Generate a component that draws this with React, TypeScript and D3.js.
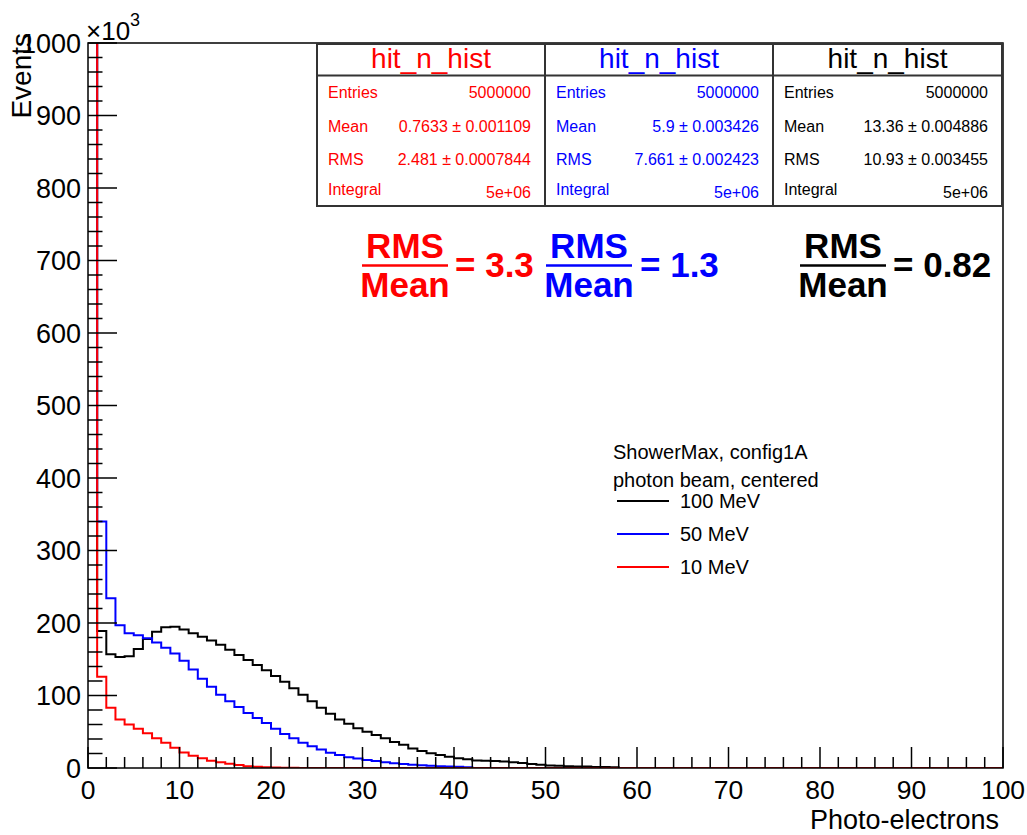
import React from 'react';
import * as d3 from 'd3';

// ---------- data (thousands of events per 1-p.e. bin, from bin 0) ----------
const red10MeV = [4300, 126, 83, 67, 60, 54, 48, 41, 35, 28, 21.5, 17, 13.5, 10, 8, 6, 4, 2.5, 1.8, 1.2, 0.7, 0.4, 0.2, 0.1];
const blue50MeV = [1900, 340, 234, 197, 186, 183, 179, 173, 166, 158, 148, 136, 123, 112, 101, 92, 84, 76, 69, 62, 54, 47, 41, 35, 30, 25.5, 21, 18, 15, 13, 11, 9.5, 8, 6.5, 5.5, 4.5, 3.8, 3, 2.5, 2, 1.6, 1.2];
const black100MeV = [1200, 189, 157, 153, 154, 164, 178, 188, 194, 195, 191, 186, 181, 176, 170, 163, 156, 149, 142, 135, 127, 119, 110, 101, 92, 83, 75, 67, 61, 55, 50, 45.5, 41, 36, 32, 27, 23.5, 20.5, 18, 15.5, 13.5, 12, 10.5, 10, 9.5, 9, 8, 7, 5.5, 4.5, 3.5, 3, 2.5, 2, 2, 1.5, 1.5, 1];

const nBins = 100;
const xDomain = [0, 100];
const yDomain = [0, 1000];
const xMajorTicks = [0, 10, 20, 30, 40, 50, 60, 70, 80, 90, 100];
const yMajorTicks = [0, 100, 200, 300, 400, 500, 600, 700, 800, 900, 1000];

const statsTitles = ['hit_n_hist', 'hit_n_hist', 'hit_n_hist'];
const statsLabels = ['Entries', 'Mean', 'RMS', 'Integral'];
const statsRed = ['5000000', '0.7633 \u00b1 0.001109', '2.481 \u00b1 0.0007844', '5e+06'];
const statsBlue = ['5000000', '5.9 \u00b1 0.003426', '7.661 \u00b1 0.002423', '5e+06'];
const statsBlack = ['5000000', '13.36 \u00b1 0.004886', '10.93 \u00b1 0.003455', '5e+06'];

const ratioValues = ['3.3', '1.3', '0.82'];
const legendHeader = ['ShowerMax, config1A', 'photon beam, centered'];
const legendLabels = ['100 MeV', '50 MeV', '10 MeV'];

const RED = '#ff0000';
const BLUE = '#0000ff';
const BLACK = '#000000';
const FONT = '"Liberation Sans", Arial, Helvetica, sans-serif';

// ---------- layout ----------
const W = 1027;
const H = 835;
const plot = { left: 88, right: 1003, top: 43, bottom: 768 };

export default function App() {
  const x = d3.scaleLinear().domain(xDomain).range([plot.left, plot.right]);
  const y = d3.scaleLinear().domain(yDomain).range([plot.bottom, plot.top]);

  const stepPath = (vals: number[]) => {
    const pts: [number, number][] = [];
    for (let i = 0; i < nBins; i++) {
      const v = vals[i] ?? 0;
      pts.push([x(i), y(v)]);
      pts.push([x(i + 1), y(v)]);
    }
    return d3.line()(pts) || '';
  };

  const xMinor = d3.range(0, 101, 2).filter((t) => t % 10 !== 0);
  const yMinor = d3.range(0, 1001, 20).filter((t) => t % 100 !== 0);

  const tickFont = 26.5;
  const boxes = [
    { x0: 317, x1: 545, color: RED, vals: statsRed },
    { x0: 545, x1: 773, color: BLUE, vals: statsBlue },
    { x0: 773, x1: 1002, color: BLACK, vals: statsBlack },
  ];
  const boxTop = 44;
  const boxTitleBottom = 75.5;
  const boxBottom = 206;
  const rowBaselines = [98, 131.5, 165, 198];

  const ratios = [
    { cx: 405, half: 43, eqX: 455, color: RED },
    { cx: 589, half: 43, eqX: 640, color: BLUE },
    { cx: 843, half: 43, eqX: 893, color: BLACK },
  ];

  const legendColors = [BLACK, BLUE, RED];
  const legendY = [501, 534, 567];

  return (
    <svg width={W} height={H} style={{ position: 'absolute', left: 0, top: 0, background: '#fff' }} fontFamily={FONT}>
      <defs>
        <clipPath id="frameClip">
          <rect x={plot.left} y={plot.top} width={plot.right - plot.left} height={plot.bottom - plot.top} />
        </clipPath>
      </defs>
      <rect x={0} y={0} width={W} height={H} fill="#fff" />

      {/* histograms */}
      <g clipPath="url(#frameClip)" fill="none" strokeWidth={2}>
        <path d={stepPath(black100MeV)} stroke={BLACK} />
        <path d={stepPath(blue50MeV)} stroke={BLUE} />
        <path d={stepPath(red10MeV)} stroke={RED} />
      </g>

      {/* frame */}
      <rect x={plot.left} y={plot.top} width={plot.right - plot.left} height={plot.bottom - plot.top} fill="none" stroke="#000" strokeWidth={1.5} />

      {/* ticks */}
      <g stroke="#000" strokeWidth={1.5}>
        {xMajorTicks.map((t) => (
          <line key={'xM' + t} x1={x(t)} x2={x(t)} y1={plot.bottom} y2={plot.bottom - 21} />
        ))}
        {xMinor.map((t) => (
          <line key={'xm' + t} x1={x(t)} x2={x(t)} y1={plot.bottom} y2={plot.bottom - 11} />
        ))}
        {yMajorTicks.map((t) => (
          <line key={'yM' + t} x1={plot.left} x2={plot.left + 29} y1={y(t)} y2={y(t)} />
        ))}
        {yMinor.map((t) => (
          <line key={'ym' + t} x1={plot.left} x2={plot.left + 14.5} y1={y(t)} y2={y(t)} />
        ))}
      </g>

      {/* tick labels */}
      <g fontSize={tickFont} fill="#000">
        {xMajorTicks.map((t) => (
          <text key={'xl' + t} x={x(t)} y={799} textAnchor="middle">{t}</text>
        ))}
        {yMajorTicks.map((t) => (
          <text key={'yl' + t} x={81} y={y(t) + 27 * 0.36} textAnchor="end" fontSize={27}>{t}</text>
        ))}
      </g>

      {/* axis titles */}
      <text x={999} y={829} textAnchor="end" fontSize={27}>Photo-electrons</text>
      <text transform="translate(31,33) rotate(-90)" textAnchor="end" fontSize={28}>Events</text>
      <text x={86} y={40} fontSize={26}>
        {'\u00d710'}
        <tspan fontSize={18} dy={-14}>3</tspan>
      </text>

      {/* stats boxes */}
      {boxes.map((b, i) => (
        <g key={'box' + i}>
          <rect x={b.x0} y={boxTop} width={b.x1 - b.x0} height={boxBottom - boxTop} fill="#fff" stroke="#333" strokeWidth={2} />
          <line x1={b.x0} x2={b.x1} y1={boxTitleBottom} y2={boxTitleBottom} stroke="#333" strokeWidth={2} />
          <text x={(b.x0 + b.x1) / 2} y={68} textAnchor="middle" fontSize={28} fill={b.color}>{statsTitles[i]}</text>
          {statsLabels.map((lab, j) => (
            <text key={'l' + j} x={b.x0 + 11} y={rowBaselines[j] - (j === 3 ? 3.5 : 0)} fontSize={16} fill={b.color}>{lab}</text>
          ))}
          {b.vals.map((v, j) => (
            <text key={'v' + j} x={b.x1 - 14} y={rowBaselines[j]} textAnchor="end" fontSize={16} fill={b.color}>{v}</text>
          ))}
        </g>
      ))}

      {/* RMS / Mean annotations */}
      {ratios.map((r, i) => (
        <g key={'ratio' + i} fill={r.color} fontWeight="bold" fontSize={35}>
          <text x={r.cx} y={258} textAnchor="middle">RMS</text>
          <line x1={r.cx - r.half} x2={r.cx + r.half} y1={265.5} y2={265.5} stroke={r.color} strokeWidth={2.5} />
          <text x={r.cx} y={297} textAnchor="middle">Mean</text>
          <text x={r.eqX} y={277}>{'= ' + ratioValues[i]}</text>
        </g>
      ))}

      {/* legend */}
      <g fontSize={20} fill="#000">
        <text x={613} y={459}>{legendHeader[0]}</text>
        <text x={613} y={487}>{legendHeader[1]}</text>
        {legendLabels.map((lab, i) => (
          <g key={'leg' + i}>
            <line x1={617} x2={669} y1={legendY[i]} y2={legendY[i]} stroke={legendColors[i]} strokeWidth={2} />
            <text x={680} y={legendY[i] + 7}>{lab}</text>
          </g>
        ))}
      </g>
    </svg>
  );
}
